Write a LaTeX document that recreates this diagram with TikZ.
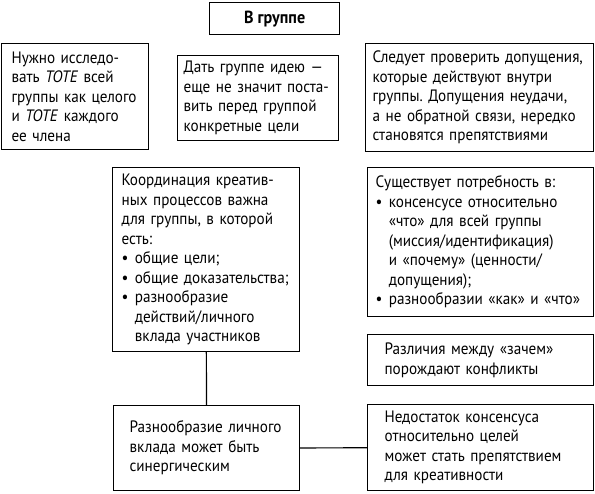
\documentclass[tikz,border=0pt]{standalone}
\usepackage{fontspec}
\setmainfont{PT Sans}[FakeStretch=0.92]
\tikzstyle{box}=[draw, line width=1.2pt, anchor=north west, align=left,
  inner xsep=9pt, inner ysep=0pt, font=\fontsize{16.5}{19.5}\selectfont]
\newcommand{\bul}{\makebox[0.8em][l]{\textbullet}}
\newcommand{\ind}{\hspace*{0.8em}}
\frenchspacing

\begin{document}
\begin{tikzpicture}[x=1pt,y=-1pt]
\useasboundingbox (0,0) rectangle (595,494);
\draw (209,2) node[box, align=center, minimum width=130pt, minimum height=32pt,
  font=\fontsize{17.5}{20}\selectfont\bfseries] (title){В группе};
%
\draw (1,43) node[box, inner xsep=10pt, text width=127pt, minimum height=106pt]
  (tote){Нужно исследо-\\вать \textit{TOTE} всей\\группы как целого\\
  и \textit{TOTE} каждого\\ее члена};
\draw (177,55) node[box, inner xsep=6pt, text width=149pt, minimum height=85pt]
  (idea){Дать группе идею —\\еще не значит поста-\\вить перед группой\\
  конкретные цели};
\draw (365,43) node[box, inner xsep=7pt, text width=214pt, minimum height=108pt]
  (check){Следует проверить допущения,\\которые действуют внутри\\
  группы. Допущения неудачи,\\а не обратной связи, нередко\\
  становятся препятствиями};
%
\draw (112,167) node[box, text width=169pt, minimum height=184pt]
  (coord){Координация креатив-\\ных процессов важна\\для группы, в которой\\
  есть:\\\bul общие цели;\\\bul общие доказательства;\\\bul разнообразие\\
  \ind действий/личного\\\ind вклада участников};
\draw (367,167) node[box, inner xsep=8pt, text width=210pt, minimum height=149pt]
  (need){Существует потребность в:\\\bul консенсусе относительно\\
  \ind «что» для всей группы\\\ind (миссия/идентификация)\\
  \ind и «почему» (ценности/\\\ind допущения);\\\bul разнообразии «как» и «что»};
\draw (367,334) node[box, inner xsep=17pt, text width=192pt, minimum height=51pt]
  (why){Различия между «зачем»\\порождают конфликты};
%
\draw (113,405) node[box, inner xsep=16pt, text width=154pt, minimum height=85pt]
  (diverse){Разнообразие личного\\вклада может быть\\синергическим};
\draw (367,404) node[box, inner xsep=17pt, text width=192pt, minimum height=86pt]
  (lack){Недостаток консенсуса\\относительно целей\\может стать препятствием\\
  для креативности};
% Connections
\draw[line width=1.2pt] (coord) -- (diverse);
\draw[line width=1.2pt] (diverse) -- (lack);
\end{tikzpicture}
\end{document}
